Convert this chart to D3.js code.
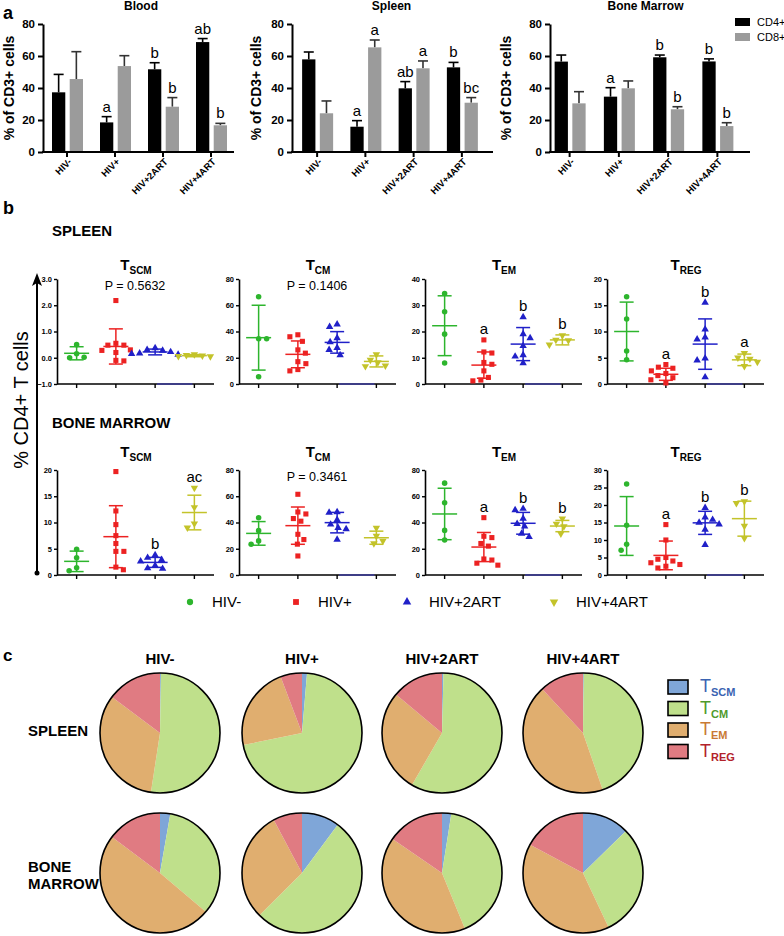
<!DOCTYPE html>
<html><head><meta charset="utf-8">
<script src="https://cdn.jsdelivr.net/npm/d3@7"></script>
<style>
body{margin:0;background:#fff}
svg{display:block}
text{font-family:"Liberation Sans",Arial,Helvetica,sans-serif}
</style>
</head><body>
<svg id="fig" width="784" height="936"></svg>
<script>
// ---------------- DATA ----------------
const groups = ["HIV-", "HIV+", "HIV+2ART", "HIV+4ART"];
const barTissues = ["Blood", "Spleen", "Bone Marrow"];
const barSeries = ["CD4+", "CD8+"];
const barTicks = [0, 20, 40, 60, 80];
const cd4Means = [[37.3, 18.5, 51.7, 68.7], [57.9, 15.8, 39.8, 52.9], [56.5, 34.6, 59.2, 56.6]];
const cd4Errs  = [[11.2, 3.6, 4.1, 2.2], [4.6, 3.8, 4.2, 3.1], [4.1, 5.6, 1.4, 1.6]];
const cd8Means = [[45.6, 53.7, 28.3, 16.7], [24.2, 65.4, 52.3, 30.8], [30.4, 39.8, 26.7, 16.2]];
const cd8Errs  = [[17.1, 6.5, 5.7, 1.2], [7.7, 4.6, 4.6, 3.2], [7.3, 4.6, 1.6, 2.1]];
const cd4Letters = [["", "a", "b", "ab"], ["", "a", "ab", "b"], ["", "a", "b", "b"]];
const cd8Letters = [["", "", "b", "b"], ["", "a", "a", "bc"], ["", "", "b", "b"]];

const cellTypes = ["SCM", "CM", "EM", "REG"];
const scatterRows = ["SPLEEN", "BONE MARROW"];
const spleenDomains = [[-1, 3], [0, 80], [0, 40], [0, 20]];
const marrowDomains = [[0, 20], [0, 80], [0, 80], [0, 30]];
const spleenTicks = [[-1, 0, 1, 2, 3], [0, 20, 40, 60, 80], [0, 10, 20, 30, 40], [0, 5, 10, 15, 20]];
const marrowTicks = [[0, 5, 10, 15, 20], [0, 20, 40, 60, 80], [0, 20, 40, 60, 80], [0, 5, 10, 15, 20, 25, 30]];

// points per cell type, per group
const spleenPoints = [
  [[0.5, 0.15, 0.02, 0.0], [2.18, 0.55, 0.48, 0.48, 0.3, 0.28, 0.2, -0.1, -0.12], [0.37, 0.3, 0.27, 0.22, 0.17, 0.15, 0.12], [0.13, 0.1, 0.08, 0.06, 0.05]],
  [[66.5, 34.5, 34.5, 5.5], [37.5, 36, 32.5, 26, 23.5, 17, 15.5, 11, 10], [45.5, 43.5, 35, 32, 27.5, 26, 22], [22.5, 18.3, 16.5, 14, 13.5]],
  [[34.5, 27.5, 19, 8], [16.8, 12.2, 11.8, 8.2, 7.5, 5, 2.5, 1.5, 1.2], [25.5, 19, 17.5, 14.5, 11, 10.5, 8], [18.5, 16.8, 16.6, 15]],
  [[16.6, 12.4, 6.3, 4.6], [3.7, 3.2, 3.0, 2.5, 2.0, 1.6, 1.2, 0.8, 0.2], [15.5, 10.4, 8.9, 8.5, 4.9, 4.5, 1.3], [5.9, 5.0, 4.8, 4.2, 3.4]]
];
const marrowPoints = [
  [[4.9, 3.3, 1.4, 0.8], [19.7, 12.2, 9.6, 7.5, 6, 4.5, 4.5, 1.5, 1.0], [3.8, 3.3, 2.9, 2.6, 1.8, 1.3, 1.2], [16.6, 12.9, 9.8, 9.0]],
  [[43.7, 33.8, 26, 23.5], [61.5, 48, 46.5, 43, 41, 31, 27, 23.5, 14.5], [48, 47.5, 42, 38.5, 36, 35, 27], [35.8, 29.7, 26, 24]],
  [[70, 55, 34, 26.7], [43.7, 29.5, 28.5, 24, 22, 12.2, 11.4, 9, 7.5], [50.5, 49.5, 43, 39, 37, 31.5, 29], [43, 39, 37, 31.5]],
  [[26, 14.2, 8.8, 7.1], [14.4, 10, 5, 4.5, 4, 3.5, 3, 2.5, 2], [19.2, 16.5, 15.8, 15, 14.5, 13, 8.6], [21, 20.5, 14, 10.5]]
];
const spleenMeans = [[0.17, 0.43, 0.22, 0.08], [35.3, 22.6, 31.7, 17.2], [22.2, 7.2, 15.2, 16.8], [10, 1.85, 7.6, 4.6]];
const spleenSDs   = [[0.25, 0.67, 0.11, 0.04], [24.7, 10.2, 8.2, 4.2], [11.4, 5, 6.3, 1.9], [5.6, 1.15, 4.8, 1.1]];
const marrowMeans = [[2.6, 7.3, 2.4, 11.9], [31.7, 37.6, 39.9, 28.4], [46.5, 21.3, 39.4, 37.3], [14, 5.6, 14.9, 16.1]];
const marrowSDs   = [[1.95, 5.9, 0.95, 3.3], [9, 14.2, 7.8, 5], [19.6, 11.1, 8.3, 4.3], [8.4, 4.1, 3.3, 5]];
const spleenLetters = [["", "", "", ""], ["", "", "", ""], ["", "a", "b", "b"], ["", "a", "b", "a"]];
const marrowLetters = [["", "", "b", "ac"], ["", "", "", ""], ["", "a", "b", "b"], ["", "a", "b", "b"]];
const spleenP = ["P = 0.5632", "P = 0.1406", "", ""];
const marrowP = ["", "P = 0.3461", "", ""];

// ---------------- STYLE / LAYOUT ----------------
const groupColors = ["#2db52d", "#ec2222", "#2020c8", "#c3c32a"];
const pieColors = ["#7fa6d8", "#bfe08b", "#e0ae6f", "#e07b82"];
const pieTextColors = ["#3a63b2", "#4f9a2c", "#c97a35", "#b3222b"];
const barColors = ["#000000", "#9b9b9b"];

const svg = d3.select("#fig");

function label(x, y, t, size, weight, anchor) {
  return svg.append("text").attr("x", x).attr("y", y).attr("font-size", size)
    .attr("font-weight", weight || "normal").attr("text-anchor", anchor || "start").text(t);
}

// panel letters
label(3, 19, "a", 18, "bold");
label(3, 214, "b", 18, "bold");
label(3, 661, "c", 17, "bold");

// ---------------- PANEL A ----------------
const barLayout = [
  {ax: 43, l: 43, r: 235, end: 234, lab: 14},
  {ax: 292, l: 293, r: 486, end: 493, lab: 261},
  {ax: 550, l: 545, r: 742, end: 750, lab: 511}
];
const yA = d3.scaleLinear([0, 80], [152, 24]);
const xs = d3.scaleBand(barSeries, [-15, 16]).paddingInner(0.25);

barTissues.forEach((tissue, ti) => {
  const L = barLayout[ti];
  const g = svg.append("g");
  const xb = d3.scaleBand(groups, [L.l, L.r]);
  g.append("text").attr("x", (L.l + L.r) / 2 + 2).attr("y", 10).attr("text-anchor", "middle")
    .attr("font-size", 12).attr("font-weight", "bold").text(tissue);
  g.append("text").attr("transform", `translate(${L.lab},88) rotate(-90)`).attr("text-anchor", "middle")
    .attr("font-size", 14).attr("font-weight", "bold").text("% of CD3+ cells");

  const series = [
    {name: "CD4+", means: cd4Means[ti], errs: cd4Errs[ti], letters: cd4Letters[ti], color: barColors[0], ec: "#000"},
    {name: "CD8+", means: cd8Means[ti], errs: cd8Errs[ti], letters: cd8Letters[ti], color: barColors[1], ec: "#333"}
  ];
  series.forEach(s => {
    groups.forEach((gr, gi) => {
      const x0 = xb(gr) + xb.bandwidth() / 2 + xs(s.name);
      const w = xs.bandwidth();
      const cx = x0 + w / 2;
      const top = yA(s.means[gi] + s.errs[gi]);
      g.append("line").attr("x1", cx).attr("x2", cx).attr("y1", yA(s.means[gi])).attr("y2", top)
        .attr("stroke", s.ec).attr("stroke-width", 1.6);
      g.append("line").attr("x1", cx - 5).attr("x2", cx + 5).attr("y1", top).attr("y2", top)
        .attr("stroke", s.ec).attr("stroke-width", 1.6);
      g.append("rect").attr("x", x0).attr("y", yA(s.means[gi])).attr("width", w)
        .attr("height", yA(0) - yA(s.means[gi])).attr("fill", s.color);
      if (s.letters[gi]) {
        g.append("text").attr("x", cx).attr("y", top - 5).attr("text-anchor", "middle")
          .attr("font-size", 15).text(s.letters[gi]);
      }
    });
  });

  const yAxis = g.append("g").attr("transform", `translate(${L.ax},0)`)
    .call(d3.axisLeft(yA).tickValues(barTicks).tickSize(5).tickSizeOuter(0).tickPadding(3));
  yAxis.select(".domain").attr("stroke-width", 2);
  yAxis.selectAll(".tick line").attr("stroke-width", 2);
  yAxis.selectAll("text").attr("font-size", 11.5).attr("font-weight", "bold")
    .attr("font-family", '"Liberation Sans",Arial,sans-serif');

  g.append("line").attr("x1", L.ax - 1).attr("x2", L.end).attr("y1", 152).attr("y2", 152)
    .attr("stroke", "#000").attr("stroke-width", 2);
  groups.forEach(gr => {
    const cx = xb(gr) + xb.bandwidth() / 2;
    g.append("line").attr("x1", cx).attr("x2", cx).attr("y1", 152).attr("y2", 157)
      .attr("stroke", "#000").attr("stroke-width", 2);
    g.append("text").attr("transform", `translate(${cx + 3},160) rotate(-45)`)
      .attr("text-anchor", "end").attr("dy", "0.35em").attr("font-size", 9.5).attr("font-weight", "bold").text(gr);
  });
});

// legend a
barSeries.forEach((s, i) => {
  svg.append("rect").attr("x", 735).attr("y", 18 + i * 15).attr("width", 15).attr("height", 8).attr("fill", barColors[i]);
  label(757, 26 + i * 15, s, 11);
});

// ---------------- PANEL B ----------------
label(52, 236, scatterRows[0], 15, "bold");
label(52, 428, scatterRows[1], 15, "bold");

// big arrow + y label
svg.append("line").attr("x1", 37).attr("x2", 37).attr("y1", 283).attr("y2", 573).attr("stroke", "#000").attr("stroke-width", 2);
svg.append("path").attr("d", "M37,273 L32,286 L37,283 L42,286 Z").attr("fill", "#000");
svg.append("circle").attr("cx", 37).attr("cy", 573).attr("r", 2.5).attr("fill", "#000");
svg.append("text").attr("transform", "translate(28,400) rotate(-90)").attr("text-anchor", "middle")
  .attr("font-size", 20).text("% CD4+ T cells");

const scatterAxisX = [57, 239, 425, 607];
const plotW = 157;
const rowTops = [279, 470], rowBottoms = [384, 575], titleYs = [270, 457];
const symbols = [d3.symbolCircle, d3.symbolSquare, d3.symbolTriangle, d3.symbolTriangle];
const symSizes = [24, 26, 24, 24];

// beeswarm-style horizontal offsets so that markers do not overlap
function dodge(vals, y) {
  const D = 7.8;
  const order = vals.map((v, i) => ({i, y: y(v)})).sort((a, b) => a.y - b.y);
  const placed = [];
  const off = new Array(vals.length).fill(0);
  order.forEach((p, n) => {
    let best = 0;
    for (let k = 0; k < 60; k++) {
      const sign = (n % 2 === 0) ? 1 : -1;
      const cands = k === 0 ? [0] : [sign * k * 0.5, -sign * k * 0.5];
      let found = null;
      for (const c of cands) {
        if (placed.every(q => Math.hypot(q.x - c, q.y - p.y) >= D)) { found = c; break; }
      }
      if (found !== null) { best = found; break; }
    }
    off[p.i] = best;
    placed.push({x: best, y: p.y});
  });
  return off;
}

function scatterPlot(row, ci, dom, ticks, pts, means, sds, letters, ptxt, blueSeg) {
  const ax = scatterAxisX[ci], top = rowTops[row], bot = rowBottoms[row];
  const g = svg.append("g");
  const y = d3.scaleLinear(dom, [bot, top]);
  const xb = d3.scaleBand(groups, [ax, ax + plotW]);
  const t = g.append("text").attr("x", ax + 79).attr("y", titleYs[row]).attr("text-anchor", "middle")
    .attr("font-weight", "bold").attr("font-size", 15);
  t.append("tspan").text("T");
  t.append("tspan").attr("dy", 4).attr("font-size", 10).text(cellTypes[ci]);
  if (ptxt) g.append("text").attr("x", ax + 78).attr("y", top + 11).attr("text-anchor", "middle")
    .attr("font-size", 12.5).text(ptxt);

  const ya = g.append("g").attr("transform", `translate(${ax},0)`)
    .call(d3.axisLeft(y).tickValues(ticks).tickSize(3).tickSizeOuter(0).tickPadding(2));
  ya.select(".domain").attr("stroke-width", 1.6);
  ya.selectAll(".tick line").attr("stroke-width", 1.4);
  ya.selectAll("text").attr("font-size", 7.5).attr("font-weight", "bold")
    .attr("font-family", '"Liberation Sans",Arial,sans-serif');
  g.append("line").attr("x1", ax).attr("x2", ax + plotW).attr("y1", bot).attr("y2", bot)
    .attr("stroke", "#000").attr("stroke-width", 1.6);
  groups.forEach(gr => {
    const cx = xb(gr) + xb.bandwidth() / 2;
    g.append("line").attr("x1", cx).attr("x2", cx).attr("y1", bot).attr("y2", bot + 4)
      .attr("stroke", "#000").attr("stroke-width", 1.4);
  });
  if (blueSeg) {
    const a = xb(groups[2]) + xb.bandwidth() / 2, b = xb(groups[3]) + xb.bandwidth() / 2;
    g.append("line").attr("x1", a + 2).attr("x2", b - 2).attr("y1", bot).attr("y2", bot)
      .attr("stroke", "#3a3acc").attr("stroke-width", 1.2);
  }

  groups.forEach((gr, gi) => {
    const cx = xb(gr) + xb.bandwidth() / 2;
    const col = groupColors[gi];
    const m = means[gi], s = sds[gi];
    const vals = pts[gi];
    const off = dodge(vals, y);
    vals.forEach((v, k) => {
      g.append("path").attr("d", d3.symbol(symbols[gi], symSizes[gi])())
        .attr("transform", `translate(${cx + off[k]},${y(v)})` + (gi === 3 ? " rotate(180)" : ""))
        .attr("fill", col);
    });
    const seg = (x1, x2, y1, y2) => g.append("line").attr("x1", x1).attr("x2", x2).attr("y1", y1).attr("y2", y2)
      .attr("stroke", col).attr("stroke-width", 1.5);
    seg(cx, cx, y(m - s), y(m + s));
    seg(cx - 7, cx + 7, y(m + s), y(m + s));
    seg(cx - 7, cx + 7, y(m - s), y(m - s));
    seg(cx - 12.5, cx + 12.5, y(m), y(m));
    if (letters[gi]) {
      const topPx = Math.min(y(m + s), y(d3.max(vals)));
      g.append("text").attr("x", cx).attr("y", topPx - 6).attr("text-anchor", "middle")
        .attr("font-size", 15).text(letters[gi]);
    }
  });
}

cellTypes.forEach((c, ci) => {
  scatterPlot(0, ci, spleenDomains[ci], spleenTicks[ci], spleenPoints[ci], spleenMeans[ci], spleenSDs[ci], spleenLetters[ci], spleenP[ci], true);
  scatterPlot(1, ci, marrowDomains[ci], marrowTicks[ci], marrowPoints[ci], marrowMeans[ci], marrowSDs[ci], marrowLetters[ci], marrowP[ci], ci !== 0);
});

// legend b
const legBX = [190, 296, 407, 554];
groups.forEach((gr, gi) => {
  svg.append("path").attr("d", d3.symbol(symbols[gi], symSizes[gi] * 1.3)())
    .attr("transform", `translate(${legBX[gi]},602)` + (gi === 3 ? " rotate(180)" : ""))
    .attr("fill", groupColors[gi]);
  label(legBX[gi] + 22, 607, gr, 15);
});

// ---------------- PANEL C ----------------
const pieCX = [160, 302, 442, 583];
const pieCY = [733, 873];
const pieR = 60;
groups.forEach((gr, gi) => label(pieCX[gi], 664, gr, 15, "bold", "middle"));
label(28, 736, "SPLEEN", 15, "bold");
label(28, 872, "BONE", 15, "bold");
label(28, 889, "MARROW", 15, "bold");

const pie = d3.pie().sort(null).value(d => d);
const arc = d3.arc().innerRadius(0).outerRadius(pieR);
[spleenMeans, marrowMeans].forEach((means, ri) => {
  groups.forEach((gr, gi) => {
    const vals = cellTypes.map((c, ci) => means[ci][gi]);
    const g = svg.append("g").attr("transform", `translate(${pieCX[gi]},${pieCY[ri]})`);
    g.selectAll("path").data(pie(vals)).join("path").attr("d", arc)
      .attr("fill", (d, i) => pieColors[i]);
    g.append("circle").attr("r", pieR).attr("fill", "none").attr("stroke", "#000").attr("stroke-width", 1.6);
  });
});

// legend c
cellTypes.forEach((c, i) => {
  const y0 = 680 + i * 21.5;
  svg.append("rect").attr("x", 668).attr("y", y0).attr("width", 20).attr("height", 14)
    .attr("fill", pieColors[i]).attr("stroke", "#000").attr("stroke-width", 1.6);
  const t = svg.append("text").attr("x", 700).attr("y", y0 + 12).attr("fill", pieTextColors[i]).attr("font-size", 18);
  t.append("tspan").text("T");
  t.append("tspan").attr("dy", 4).attr("font-size", 11).attr("font-weight", "bold").text(c);
});
</script>
</body></html>
